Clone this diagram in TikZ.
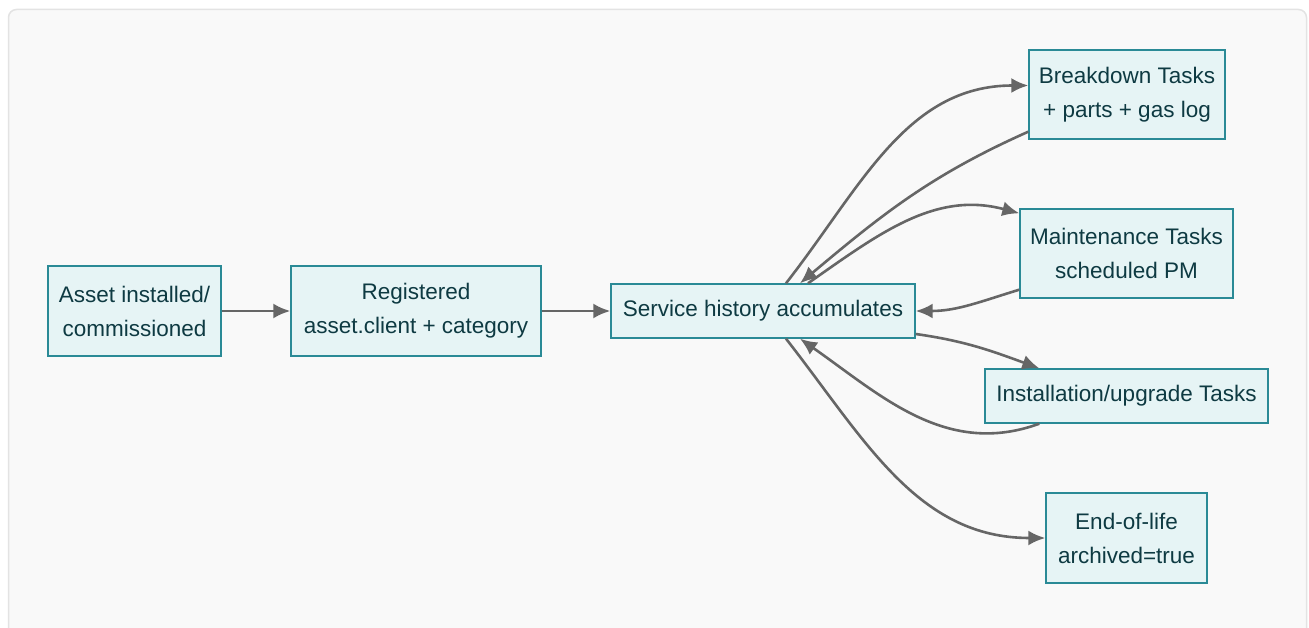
\documentclass[tikz,border=0pt]{standalone}
\usepackage{fontspec}
\setmainfont{Liberation Sans}
\usetikzlibrary{arrows.meta}
\definecolor{boxfill}{HTML}{E6F4F5}
\definecolor{boxline}{HTML}{2A8A96}
\definecolor{boxtext}{HTML}{0E3A42}
\definecolor{edgegray}{HTML}{666666}
\definecolor{panelfill}{HTML}{F9F9F9}
\definecolor{panelline}{HTML}{E3E3E3}

\begin{document}
\begin{tikzpicture}[x=1pt,y=-1pt,
	stage/.style={draw=boxline,fill=boxfill,line width=1.4pt,text=boxtext,align=center,inner sep=0pt,font=\fontsize{22.5}{34}\selectfont},
	flow/.style={-{Latex[length=17pt,width=15pt]},draw=edgegray,line width=2.6pt}]
	\useasboundingbox (0,0) rectangle (1309,628);
	\clip (0,0) rectangle (1309,628);
	\draw [fill=panelfill,draw=panelline,line width=1.5pt,rounded corners=8pt] (8.5,9.5) rectangle (1306.5,650);

	% stages of the asset life
	\node [stage,minimum width=173,minimum height=90] (installed) at (134.5,311) {Asset installed/\\commissioned};
	\node [stage,minimum width=250,minimum height=90] (registered) at (416,311) {Registered\\asset.client + category};
	\node [stage,minimum width=304,minimum height=54] (history) at (763,311) {Service history accumulates};
	\node [stage,minimum width=196,minimum height=89] (breakdown) at (1127,94.5) {Breakdown Tasks\\+ parts + gas log};
	\node [stage,minimum width=213,minimum height=89] (maintenance) at (1126.5,253.5) {Maintenance Tasks\\scheduled PM};
	\node [stage,minimum width=283,minimum height=54] (upgrade) at (1126.5,396) {Installation/upgrade Tasks};
	\node [stage,minimum width=161,minimum height=90] (eol) at (1126.5,538) {End-of-life\\archived=true};

	\draw [flow] (installed) -- (registered);
	\draw [flow] (registered) -- (history);

	% task loops
	\draw [flow] ([xshift=23]history.north) to[out=52,in=180] ([yshift=9]breakdown.west);
	\draw [flow] ([yshift=8]breakdown.south west) to[out=204,in=40] ([xshift=37]history.north);
	\draw [flow] ([xshift=45]history.north) to[out=35,in=165] ([yshift=-5]maintenance.north west);
	\draw [flow] ([yshift=9]maintenance.south west) to[out=197,in=0] (history.east);
	\draw [flow] ([yshift=-23]history.east) to[out=-8,in=160] ([xshift=55]upgrade.north west);
	\draw [flow] ([xshift=55]upgrade.south west) to[out=200,in=-35] ([xshift=37]history.south);
	\draw [flow] ([xshift=23]history.south) to[out=-52,in=180] (eol.west);
\end{tikzpicture}
\end{document}
